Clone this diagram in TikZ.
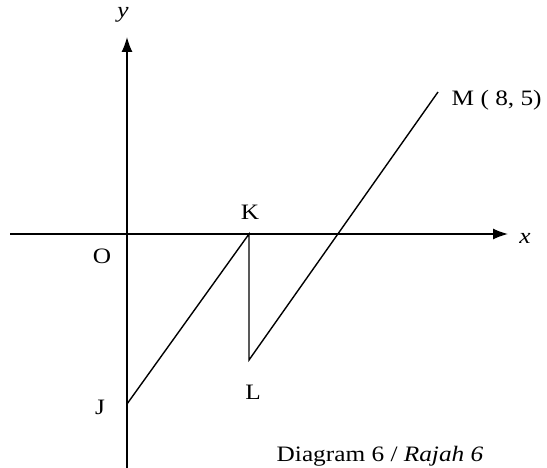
\documentclass[tikz,border=0pt]{standalone}
\usepackage{fontspec}
\setmainfont{Liberation Serif}[FakeStretch=1.15]
\usetikzlibrary{arrows.meta,positioning}
\begin{document}
\begin{tikzpicture}[x=1pt,y=-1pt,line width=1.4pt,
  axis/.style={-{Latex[length=15pt,width=11pt]}},
  lbl/.style={font=\fontsize{22}{26}\selectfont,inner sep=0pt}]
\useasboundingbox (0,0) rectangle (547,468);
% points
\coordinate (O) at (127,234);
\coordinate (K) at (249,234);
\coordinate (L) at (249,360);
\coordinate (J) at (127,404);
\coordinate (M) at (438,92);
\coordinate (xs) at (10,234);
\coordinate (xe) at (508,234);
\coordinate (ys) at (127,470);
\coordinate (ye) at (127,37);
% axes
\draw[axis] (xs) -- (xe);
\draw[axis] (ys) -- (ye);
\draw (J) -- (K) -- (L) -- (M);
% labels
\node[lbl] (ylbl) at (123,15) {\textit{y}};
\node[lbl] (xlbl) at (525,238) {\textit{x}};
\node[lbl] (Olbl) at (102,256) {O};
\node[lbl] (Klbl) at (250,212) {K};
\node[lbl] (Llbl) at (253,392) {L};
\node[lbl] (Jlbl) at (100,407) {J};
\node[lbl,anchor=west] (Mlbl) at (451,100) {M ( 8, 5)};
\node[lbl,anchor=base west] (cap) at (276,461) {Diagram 6 / \textit{Rajah 6}};
\end{tikzpicture}
\end{document}
